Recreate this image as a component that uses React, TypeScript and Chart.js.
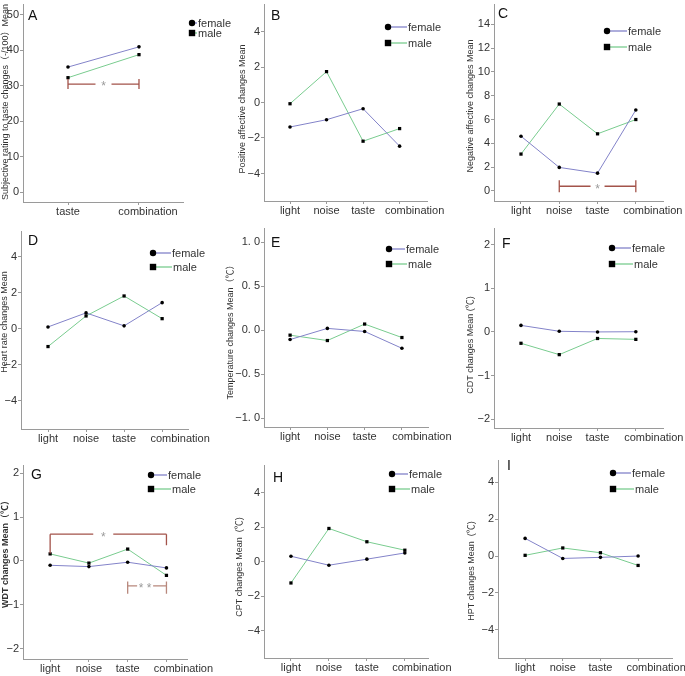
import React, { useEffect, useRef } from "react";
import { Chart, registerables } from "chart.js";
Chart.register(...registerables);

const W = 685;
const H = 676;
const FONT = '"Liberation Sans", Arial, "Noto Sans CJK SC", sans-serif';
Chart.defaults.font.family = FONT;

// ---------- data ----------
const catsA = ["taste", "combination"];
const cats = ["light", "noise", "taste", "combination"];

const femaleA = [35.3, 41.0];
const maleA = [32.3, 38.8];
const femaleB = [-1.38, -0.97, -0.35, -2.46];
const maleB = [-0.07, 1.74, -2.18, -1.47];
const femaleC = [4.6, 1.98, 1.5, 6.8];
const maleC = [3.1, 7.3, 4.8, 6.0];
const femaleD = [0.11, 0.89, 0.17, 1.46];
const maleD = [-0.98, 0.72, 1.83, 0.57];
const femaleE = [-0.107, 0.02, -0.015, -0.206];
const maleE = [-0.057, -0.118, 0.069, -0.084];
const femaleF = [0.15, 0.015, 0.0, 0.005];
const maleF = [-0.26, -0.52, -0.15, -0.17];
const femaleG = [-0.1, -0.13, -0.03, -0.16];
const maleG = [0.16, -0.05, 0.27, -0.33];
const femaleH = [0.33, -0.19, 0.16, 0.52];
const maleH = [-1.22, 1.94, 1.17, 0.68];
const femaleI = [0.96, -0.13, -0.07, 0.0];
const maleI = [0.04, 0.44, 0.18, -0.51];

const ticksA = [0, 10, 20, 30, 40, 50];
const ticksC = [0, 2, 4, 6, 8, 10, 12, 14];
const ticks4 = [-4, -2, 0, 2, 4];
const ticksE = [-1, -0.5, 0, 0.5, 1];
const ticks2 = [-2, -1, 0, 1, 2];
const labelsE = ["\u22121. 0", "\u22120. 5", "0. 0", "0. 5", "1. 0"];

// significance brackets (values in data units)
const bracketsA = [{ from: 0, to: 1, at: 30.5, left: [29.1, 31.9], right: [29.1, 31.9], label: "*", labelAt: 0.5 }];
const bracketsC = [{ from: 1, to: 3, at: 0.4, left: [-0.1, 0.9], right: [-0.1, 0.9], label: "*", labelAt: 2 }];
const bracketsG = [
  { from: 0, to: 3, at: 0.61, left: [0.61, 0.17], right: [0.61, 0.36], label: "*", labelAt: 1.37 },
  { from: 2, to: 3, at: -0.57, left: [-0.47, -0.75], right: [-0.47, -0.75], label: "* *", labelAt: 2.45 },
];

// ---------- layout / style ----------
const FEMALE = "#8383c9";
const MALE = "#79cc8f";
const AXIS = "#9a9a9a";
const TXT = "#333333";
const BR1 = "#a3534a";
const BR2 = "#b8887c";

type P = any;
const panels: P[] = [
  { letter: "A", letterPos: [28, 15], title: "Subjective rating to taste changes\uFF08-/100\uFF09Mean", titlePos: [6, 102],
    area: [23, 3, 183, 202], x: [-0.634, 1.62], y: [-2.8, 53.1], cats: catsA, female: femaleA, male: maleA, ticks: ticksA,
    lastShift: 9, legend: [192, 23, 33, 197, 198, 197, 198], brackets: bracketsA, bstyle: [{ gap: 8, color: BR1 }] },
  { letter: "B", letterPos: [271, 15], title: "Positive affective changes Mean", titlePos: [243, 109],
    area: [264, 3, 427, 201], x: [-0.712, 3.75], y: [-5.55, 5.55], cats, female: femaleB, male: maleB, ticks: ticks4,
    lastShift: 15, legend: [388, 27, 43, 407, 408, 407, 408] },
  { letter: "C", letterPos: [498, 13], title: "Negative affective changes Mean", titlePos: [471, 106],
    area: [494, 3, 663, 201], x: [-0.705, 3.71], y: [-0.84, 15.7], cats, female: femaleC, male: maleC, ticks: ticksC,
    lastShift: 17, legend: [607, 31, 47, 627, 628, 627, 628], brackets: bracketsC, bstyle: [{ gap: 7, color: BR1 }] },
  { letter: "D", letterPos: [28, 240], title: "Heart rate changes Mean", titlePos: [5, 322],
    area: [21, 231, 188, 429], x: [-0.71, 3.68], y: [-5.56, 5.44], cats, female: femaleD, male: maleD, ticks: ticks4,
    lastShift: 18, legend: [153, 253, 267, 171, 172, 172, 173] },
  { letter: "E", letterPos: [271, 242], title: "Temperature changes Mean\uFF08\u2103\uFF09", titlePos: [231, 330],
    area: [264, 228, 428, 427], x: [-0.7, 3.7], y: [-1.1, 1.16], cats, female: femaleE, male: maleE, ticks: ticksE, yLabels: labelsE,
    lastShift: 20, legend: [389, 249, 264, 405, 406, 407, 408] },
  { letter: "F", letterPos: [502, 243], title: "CDT changes Mean (\u2103)", titlePos: [471, 345],
    area: [494, 228, 663, 428], x: [-0.705, 3.71], y: [-2.2, 2.38], cats, female: femaleF, male: maleF, ticks: ticks2,
    lastShift: 18, legend: [612, 248, 264, 631, 632, 633, 634] },
  { letter: "G", letterPos: [31, 474], title: "WDT changes Mean\uFF08\u2103\uFF09", titlePos: [6, 552], titleBold: true,
    area: [23, 465, 187, 659], x: [-0.7, 3.53], y: [-2.24, 2.19], cats, female: femaleG, male: maleG, ticks: ticks2,
    lastShift: 17, legend: [151, 475, 489, 167, 168, 171, 172], brackets: bracketsG, bstyle: [{ gap: 10, color: BR1 }, { gap: 8, color: BR2 }] },
  { letter: "H", letterPos: [273, 477], title: "CPT changes Mean  (\u2103)", titlePos: [240, 567],
    area: [264, 465, 428, 658], x: [-0.71, 3.61], y: [-5.57, 5.62], cats, female: femaleH, male: maleH, ticks: ticks4,
    lastShift: 17, legend: [392, 474, 489, 408, 409, 410, 411] },
  { letter: "I", letterPos: [507, 465], title: "HPT changes Mean  (\u2103)", titlePos: [472, 571],
    area: [498, 460, 672, 658], x: [-0.72, 3.9], y: [-5.54, 5.22], cats, female: femaleI, male: maleI, ticks: ticks4,
    lastShift: 18, legend: [613, 473, 489, 631, 632, 634, 635] },
];

const XH = 20;

function fmtNum(v: number) {
  return v < 0 ? "\u2212" + Math.abs(v) : String(v);
}

function makeConfig(p: P) {
  const [AX, TOP, RX, AY] = p.area;
  const YW = Math.min(AX, 40);
  const decor = {
    id: "decor",
    afterDraw(chart: any) {
      const ctx = chart.ctx;
      const xs = chart.scales.x;
      const ys = chart.scales.y;
      ctx.save();
      // x category labels (last one shifted right, as in the original layout)
      ctx.font = "11px " + FONT;
      ctx.fillStyle = TXT;
      ctx.textAlign = "center";
      ctx.textBaseline = "middle";
      p.cats.forEach((c: string, i: number) => {
        const shift = i === p.cats.length - 1 ? p.lastShift : 0;
        ctx.fillText(c, xs.getPixelForValue(i) + shift, xs.top + 10);
      });
      // y-axis title
      ctx.save();
      ctx.translate(p.titlePos[0], p.titlePos[1]);
      ctx.rotate(-Math.PI / 2);
      ctx.font = (p.titleBold ? "bold " : "") + "9px " + FONT;
      ctx.fillStyle = TXT;
      ctx.textAlign = "center";
      ctx.textBaseline = "middle";
      ctx.fillText(p.title, 0, 0);
      ctx.restore();
      // panel letter
      ctx.font = "14px " + FONT;
      ctx.fillStyle = "#111";
      ctx.textAlign = "left";
      ctx.textBaseline = "alphabetic";
      ctx.fillText(p.letter, p.letterPos[0], p.letterPos[1] + 5);
      // legend
      const [mx, fy, my, fle, ftx, mle, mtx] = p.legend;
      ctx.lineWidth = 1.3;
      ctx.strokeStyle = FEMALE;
      ctx.beginPath();
      ctx.moveTo(mx, fy);
      ctx.lineTo(fle, fy);
      ctx.stroke();
      ctx.strokeStyle = MALE;
      ctx.beginPath();
      ctx.moveTo(mx, my);
      ctx.lineTo(mle, my);
      ctx.stroke();
      ctx.fillStyle = "#000";
      ctx.beginPath();
      ctx.arc(mx, fy, 3.2, 0, Math.PI * 2);
      ctx.fill();
      ctx.fillRect(mx - 3.2, my - 3.2, 6.4, 6.4);
      ctx.font = "11px " + FONT;
      ctx.fillStyle = TXT;
      ctx.textBaseline = "middle";
      ctx.fillText("female", ftx, fy + 0.5);
      ctx.fillText("male", mtx, my + 0.5);
      // brackets
      (p.brackets || []).forEach((b: any, i: number) => {
        const st = p.bstyle[i];
        const x0 = xs.getPixelForValue(b.from);
        const x1 = xs.getPixelForValue(b.to);
        const y = ys.getPixelForValue(b.at);
        const lx = xs.getPixelForValue(b.labelAt);
        ctx.strokeStyle = st.color;
        ctx.lineWidth = 1.3;
        ctx.beginPath();
        ctx.moveTo(x0, y);
        ctx.lineTo(lx - st.gap, y);
        ctx.moveTo(lx + st.gap, y);
        ctx.lineTo(x1, y);
        ctx.moveTo(x0, ys.getPixelForValue(b.left[0]));
        ctx.lineTo(x0, ys.getPixelForValue(b.left[1]));
        ctx.moveTo(x1, ys.getPixelForValue(b.right[0]));
        ctx.lineTo(x1, ys.getPixelForValue(b.right[1]));
        ctx.stroke();
        ctx.font = "12px " + FONT;
        ctx.fillStyle = "#9a9a9a";
        ctx.textAlign = "center";
        ctx.textBaseline = "middle";
        ctx.fillText(b.label, lx, y + 3);
      });
      ctx.restore();
    },
  };
  const ds = (label: string, vals: number[], color: string, style: string, r: number) => ({
    label,
    data: vals.map((v, i) => ({ x: i, y: v })),
    borderColor: color,
    borderWidth: 1,
    backgroundColor: "#000",
    pointStyle: style,
    pointRadius: r,
    pointBackgroundColor: "#000",
    pointBorderColor: "#000",
    pointBorderWidth: 0,
    tension: 0,
  });
  return {
    type: "line",
    data: {
      datasets: [
        ds("female", p.female, FEMALE, "circle", 1.8),
        ds("male", p.male, MALE, "rect", 2.3),
      ],
    },
    options: {
      animation: false,
      responsive: false,
      devicePixelRatio: 1,
      events: [],
      layout: { padding: { left: AX - YW, top: TOP, right: W - RX, bottom: H - AY - XH } },
      plugins: { legend: { display: false }, tooltip: { enabled: false }, title: { display: false } },
      scales: {
        x: {
          type: "linear",
          min: p.x[0],
          max: p.x[1],
          bounds: "data",
          afterBuildTicks: (s: any) => {
            s.ticks = p.cats.map((_: string, i: number) => ({ value: i }));
          },
          afterFit: (s: any) => {
            s.height = XH;
            s.paddingLeft = 0;
            s.paddingRight = 0;
          },
          ticks: {
            display: false,
            callback: (v: number) => p.cats[v],
            autoSkip: false,
            maxRotation: 0,
            minRotation: 0,
          },
          grid: { display: true, drawOnChartArea: false, drawTicks: true, tickLength: 3, color: AXIS },
          border: { display: true, color: AXIS, width: 1 },
        },
        y: {
          type: "linear",
          min: p.y[0],
          max: p.y[1],
          bounds: "data",
          afterBuildTicks: (s: any) => {
            s.ticks = p.ticks.map((v: number) => ({ value: v }));
          },
          afterFit: (s: any) => {
            s.width = YW;
            s.paddingTop = 0;
            s.paddingBottom = 0;
          },
          ticks: {
            callback: (v: number, i: number) => (p.yLabels ? p.yLabels[i] : fmtNum(v)),
            autoSkip: false,
            padding: 1,
            color: TXT,
            font: { size: 11, family: FONT },
          },
          grid: { display: true, drawOnChartArea: false, drawTicks: true, tickLength: 3, color: AXIS },
          border: { display: true, color: AXIS, width: 1 },
        },
      },
    },
    plugins: [decor],
  };
}

function Panel({ p }: { p: P }) {
  const ref = useRef<HTMLCanvasElement | null>(null);
  useEffect(() => {
    const chart = new Chart(ref.current as HTMLCanvasElement, makeConfig(p) as any);
    return () => chart.destroy();
  }, []);
  return (
    <canvas
      ref={ref}
      width={W}
      height={H}
      style={{ position: "absolute", left: 0, top: 0, width: W, height: H }}
    />
  );
}

export default function App() {
  return (
    <div style={{ position: "absolute", left: 0, top: 0, width: W, height: H, background: "#fff", overflow: "hidden" }}>
      {panels.map((p) => (
        <Panel key={p.letter} p={p} />
      ))}
    </div>
  );
}
